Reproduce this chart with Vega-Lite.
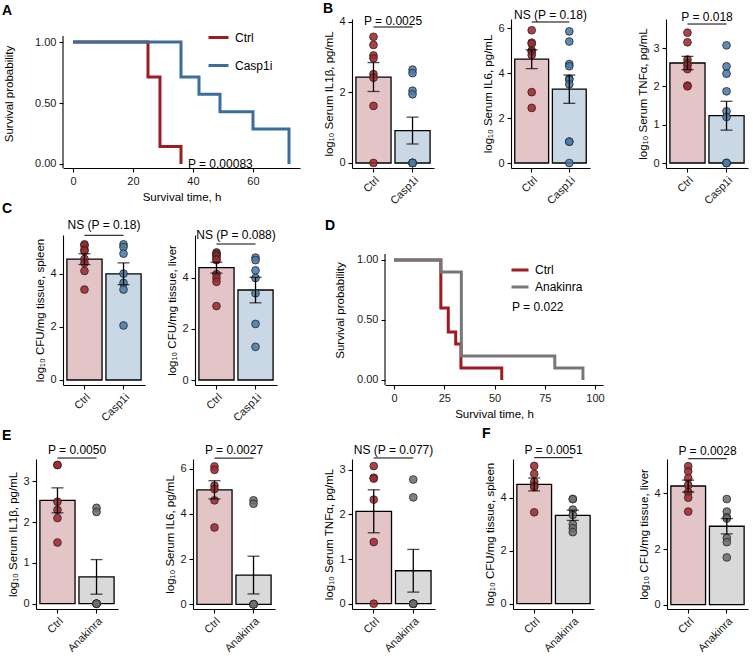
{
"$schema": "https://vega.github.io/schema/vega-lite/v6.json",
"background": "white",
"padding": {"left": 2, "top": 1, "right": 2, "bottom": 0},
"bounds": "flush",
"spacing": 0,
"resolve": {"scale": {"color": "independent", "fill": "independent"}, "legend": {"color": "independent", "fill": "independent"}},
"config": {
 "view": {"stroke": null},
 "font": "Liberation Sans",
 "axis": {"grid": false, "domainColor": "black", "domainWidth": 1.1, "tickColor": "black", "tickWidth": 1.1, "tickSize": 4, "labelFont": "Liberation Sans", "labelFontSize": 11, "labelColor": "#1a1a1a", "labelPadding": 3, "titleFont": "Liberation Sans", "titleFontSize": 11.5, "titleFontWeight": "normal", "titleColor": "black", "titlePadding": 4},
 "axisBand": {"labelAngle": -45, "labelAlign": "right", "labelBaseline": "top", "labelPadding": 2, "labelFontSize": 11},
 "legend": {"labelFont": "Liberation Sans", "labelFontSize": 12, "labelColor": "black"},
 "text": {"font": "Liberation Sans", "fontSize": 12, "color": "black"},
 "title": {"font": "Liberation Sans", "fontSize": 14, "fontWeight": "bold", "color": "black", "anchor": "start", "frame": "group"}
},
"datasets": {
 "kmA": [{"t":0,"s":1,"g":"Ctrl"},{"t":25,"s":0.714,"g":"Ctrl"},{"t":29,"s":0.143,"g":"Ctrl"},{"t":36,"s":0,"g":"Ctrl"},{"t":0,"s":1,"g":"Casp1i"},{"t":36,"s":0.714,"g":"Casp1i"},{"t":42,"s":0.571,"g":"Casp1i"},{"t":49,"s":0.429,"g":"Casp1i"},{"t":60,"s":0.286,"g":"Casp1i"},{"t":72,"s":0,"g":"Casp1i"}],
 "kmD": [{"t":0,"s":1,"g":"Ctrl"},{"t":23.3,"s":0.6,"g":"Ctrl"},{"t":27,"s":0.4,"g":"Ctrl"},{"t":30.7,"s":0.3,"g":"Ctrl"},{"t":33.3,"s":0.1,"g":"Ctrl"},{"t":53.6,"s":0,"g":"Ctrl"},{"t":0,"s":1,"g":"Anakinra"},{"t":23.3,"s":0.9,"g":"Anakinra"},{"t":33.5,"s":0.2,"g":"Anakinra"},{"t":80,"s":0.1,"g":"Anakinra"},{"t":94,"s":0,"g":"Anakinra"}],
 "b1": [{"g":"Ctrl","v":3.58},{"g":"Ctrl","v":3.35},{"g":"Ctrl","v":3.05},{"g":"Ctrl","v":2.97},{"g":"Ctrl","v":2.52},{"g":"Ctrl","v":2.42},{"g":"Ctrl","v":1.62},{"g":"Ctrl","v":0},{"g":"Casp1i","v":2.65},{"g":"Casp1i","v":2.55},{"g":"Casp1i","v":2.05},{"g":"Casp1i","v":1.95},{"g":"Casp1i","v":0},{"g":"Casp1i","v":0},{"g":"Casp1i","v":0},{"g":"Casp1i","v":0},{"g":"Casp1i","v":0},{"g":"Casp1i","v":0}],
 "b2": [{"g":"Ctrl","v":5.9},{"g":"Ctrl","v":5.35},{"g":"Ctrl","v":5.3},{"g":"Ctrl","v":5.0},{"g":"Ctrl","v":4.95},{"g":"Ctrl","v":4.8},{"g":"Ctrl","v":3.15},{"g":"Ctrl","v":2.45},{"g":"Casp1i","v":5.85},{"g":"Casp1i","v":5.4},{"g":"Casp1i","v":4.4},{"g":"Casp1i","v":4.3},{"g":"Casp1i","v":3.75},{"g":"Casp1i","v":3.7},{"g":"Casp1i","v":3.5},{"g":"Casp1i","v":0.95},{"g":"Casp1i","v":0.95},{"g":"Casp1i","v":0}],
 "b3": [{"g":"Ctrl","v":3.4},{"g":"Ctrl","v":3.15},{"g":"Ctrl","v":2.7},{"g":"Ctrl","v":2.6},{"g":"Ctrl","v":2.55},{"g":"Ctrl","v":2.45},{"g":"Ctrl","v":2.02},{"g":"Ctrl","v":2.0},{"g":"Casp1i","v":3.07},{"g":"Casp1i","v":2.52},{"g":"Casp1i","v":2.33},{"g":"Casp1i","v":1.87},{"g":"Casp1i","v":1.35},{"g":"Casp1i","v":1.2},{"g":"Casp1i","v":0},{"g":"Casp1i","v":0},{"g":"Casp1i","v":0},{"g":"Casp1i","v":0}],
 "c1": [{"g":"Ctrl","v":5.1},{"g":"Ctrl","v":5.05},{"g":"Ctrl","v":4.9},{"g":"Ctrl","v":4.85},{"g":"Ctrl","v":4.55},{"g":"Ctrl","v":4.4},{"g":"Ctrl","v":4.1},{"g":"Ctrl","v":3.4},{"g":"Casp1i","v":5.1},{"g":"Casp1i","v":5.0},{"g":"Casp1i","v":4.75},{"g":"Casp1i","v":4.0},{"g":"Casp1i","v":3.65},{"g":"Casp1i","v":3.4},{"g":"Casp1i","v":2.05}],
 "c2": [{"g":"Ctrl","v":5.0},{"g":"Ctrl","v":4.95},{"g":"Ctrl","v":4.9},{"g":"Ctrl","v":4.85},{"g":"Ctrl","v":4.75},{"g":"Ctrl","v":4.7},{"g":"Ctrl","v":4.15},{"g":"Ctrl","v":4.0},{"g":"Ctrl","v":3.85},{"g":"Ctrl","v":2.9},{"g":"Casp1i","v":4.8},{"g":"Casp1i","v":4.7},{"g":"Casp1i","v":4.3},{"g":"Casp1i","v":4.0},{"g":"Casp1i","v":3.4},{"g":"Casp1i","v":2.2},{"g":"Casp1i","v":1.3}],
 "e1": [{"g":"Ctrl","v":3.4},{"g":"Ctrl","v":3.4},{"g":"Ctrl","v":2.5},{"g":"Ctrl","v":2.3},{"g":"Ctrl","v":2.1},{"g":"Ctrl","v":1.5},{"g":"Anakinra","v":2.35},{"g":"Anakinra","v":2.25},{"g":"Anakinra","v":0},{"g":"Anakinra","v":0},{"g":"Anakinra","v":0},{"g":"Anakinra","v":0},{"g":"Anakinra","v":0}],
 "e2": [{"g":"Ctrl","v":6.1},{"g":"Ctrl","v":5.95},{"g":"Ctrl","v":5.25},{"g":"Ctrl","v":5.1},{"g":"Ctrl","v":4.6},{"g":"Ctrl","v":3.4},{"g":"Anakinra","v":4.6},{"g":"Anakinra","v":4.45},{"g":"Anakinra","v":0},{"g":"Anakinra","v":0},{"g":"Anakinra","v":0},{"g":"Anakinra","v":0},{"g":"Anakinra","v":0}],
 "e3": [{"g":"Ctrl","v":3.08},{"g":"Ctrl","v":2.82},{"g":"Ctrl","v":2.8},{"g":"Ctrl","v":2.33},{"g":"Ctrl","v":1.38},{"g":"Ctrl","v":0},{"g":"Anakinra","v":2.78},{"g":"Anakinra","v":2.38},{"g":"Anakinra","v":0},{"g":"Anakinra","v":0},{"g":"Anakinra","v":0},{"g":"Anakinra","v":0},{"g":"Anakinra","v":0}],
 "f1": [{"g":"Ctrl","v":5.2},{"g":"Ctrl","v":4.9},{"g":"Ctrl","v":4.6},{"g":"Ctrl","v":4.45},{"g":"Ctrl","v":4.4},{"g":"Ctrl","v":3.45},{"g":"Anakinra","v":3.95},{"g":"Anakinra","v":3.95},{"g":"Anakinra","v":3.55},{"g":"Anakinra","v":3.35},{"g":"Anakinra","v":3.0},{"g":"Anakinra","v":2.85},{"g":"Anakinra","v":2.7}],
 "f2": [{"g":"Ctrl","v":4.98},{"g":"Ctrl","v":4.8},{"g":"Ctrl","v":4.55},{"g":"Ctrl","v":4.3},{"g":"Ctrl","v":4.05},{"g":"Ctrl","v":3.85},{"g":"Ctrl","v":3.35},{"g":"Anakinra","v":3.8},{"g":"Anakinra","v":3.35},{"g":"Anakinra","v":3.15},{"g":"Anakinra","v":3.1},{"g":"Anakinra","v":2.4},{"g":"Anakinra","v":2.25},{"g":"Anakinra","v":1.7}]
},
"vconcat": [
{"bounds": "flush", "spacing": 0, "resolve": {"scale": {"color": "independent", "fill": "independent"}, "legend": {"color": "independent", "fill": "independent"}},
 "hconcat": [
 {"width": 27, "height": 149, "data": {"values": []}, "mark": "point", "encoding": {}},
 {"width": 237, "height": 149, "title": {"text": "A", "dx": -61, "offset": 1.5},
  "layer": [
   {"data": {"name": "kmA"}, "mark": {"type": "line", "interpolate": "step-after", "strokeWidth": 3},
    "encoding": {
     "x": {"field": "t", "type": "quantitative", "scale": {"domain": [-3.33, 75.67], "nice": false, "zero": false}, "axis": {"title": "Survival time, h", "values": [0,20,40,60], "titlePadding": 5}},
     "y": {"field": "s", "type": "quantitative", "scale": {"domain": [-0.033, 1.189], "nice": false, "zero": false}, "axis": {"title": "Survival probability", "values": [0,0.25,0.5,0.75,1], "format": ".2f", "domain": false, "titlePadding": 20}},
     "color": {"field": "g", "type": "nominal", "scale": {"domain": ["Ctrl","Casp1i"], "range": ["#9E1B20","#3B6E9C"]},
       "legend": {"title": null, "orient": "none", "legendX": 144, "legendY": 7, "symbolType": "stroke", "symbolStrokeWidth": 3, "symbolSize": 400, "labelOffset": 5, "rowPadding": 10, "padding": 0}}
    }},
   {"data": {"values": [{}]}, "mark": {"type": "rule", "color": "black", "strokeWidth": 1.1},
    "encoding": {"x": {"datum": -3.33, "type": "quantitative"}, "y": {"datum": -0.033, "type": "quantitative"}, "y2": {"datum": 1.05}}},
   {"data": {"values": [{}]}, "mark": {"type": "text", "align": "left", "baseline": "middle", "fontSize": 12},
    "encoding": {"x": {"datum": 38.3, "type": "quantitative"}, "y": {"datum": 0, "type": "quantitative"}, "text": {"value": "P = 0.00083"}}}
  ]},
 {"width": 52, "height": 149, "data": {"values": []}, "mark": "point", "encoding": {}},
 {"width": 82, "height": 149, "title": {"text": "B", "dx": -29, "offset": -1},
  "layer": [
   {"data": {"name": "b1"}, "mark": {"type": "bar", "stroke": "black", "strokeWidth": 1.3},
    "encoding": {
     "x": {"field": "g", "type": "nominal", "scale": {"domain": ["Ctrl","Casp1i"], "paddingInner": 0.1, "paddingOuter": 0.1}, "axis": {"title": null}},
     "y": {"aggregate": "mean", "field": "v", "type": "quantitative", "title": "log₁₀ Serum IL1β, pg/mL", "scale": {"domain": [-0.142, 4.085], "nice": false, "zero": false}, "axis": {"values": [0,1,2,3,4]}},
     "y2": {"datum": 0},
     "fill": {"field": "g", "type": "nominal", "scale": {"domain": ["Ctrl","Casp1i"], "range": ["#E4C5C7","#C9D8E4"]}, "legend": null}}},
   {"data": {"name": "b1"}, "mark": {"type": "point", "filled": true, "size": 60, "stroke": "#262626", "strokeWidth": 0.8, "fillOpacity": 0.88},
    "encoding": {"x": {"field": "g", "type": "nominal"}, "y": {"field": "v", "type": "quantitative", "title": "log₁₀ Serum IL1β, pg/mL"},
     "color": {"field": "g", "type": "nominal", "scale": {"domain": ["Ctrl","Casp1i"], "range": ["#A3282E","#4A7BAA"]}, "legend": null}}},
   {"data": {"name": "b1"}, "mark": {"type": "errorbar", "extent": "stderr", "ticks": true, "size": 12, "thickness": 1.3, "color": "black"},
    "encoding": {"x": {"field": "g", "type": "nominal"}, "y": {"field": "v", "type": "quantitative", "title": "log₁₀ Serum IL1β, pg/mL"}}},
   {"data": {"values": [{}]}, "mark": {"type": "rule", "color": "black", "strokeWidth": 1},
    "encoding": {"x": {"datum": "Ctrl", "type": "nominal"}, "x2": {"datum": "Casp1i"}, "y": {"datum": 3.858, "type": "quantitative"}}},
   {"data": {"values": [{}]}, "mark": {"type": "text", "baseline": "alphabetic", "align": "center", "fontSize": 12},
    "encoding": {"x": {"datum": "Ctrl", "type": "nominal", "bandPosition": 1.056}, "y": {"datum": 3.915, "type": "quantitative"}, "text": {"value": "P = 0.0025"}}}
  ]},
 {"width": 77, "height": 149, "data": {"values": []}, "mark": "point", "encoding": {}},
 {"width": 79, "height": 149,
  "layer": [
   {"data": {"name": "b2"}, "mark": {"type": "bar", "stroke": "black", "strokeWidth": 1.3},
    "encoding": {
     "x": {"field": "g", "type": "nominal", "scale": {"domain": ["Ctrl","Casp1i"], "paddingInner": 0.1, "paddingOuter": 0.1}, "axis": {"title": null}},
     "y": {"aggregate": "mean", "field": "v", "type": "quantitative", "title": "log₁₀ Serum IL6, pg/mL", "scale": {"domain": [-0.222, 6.4], "nice": false, "zero": false}, "axis": {"values": [0,2,4,6]}},
     "y2": {"datum": 0},
     "fill": {"field": "g", "type": "nominal", "scale": {"domain": ["Ctrl","Casp1i"], "range": ["#E4C5C7","#C9D8E4"]}, "legend": null}}},
   {"data": {"name": "b2"}, "mark": {"type": "point", "filled": true, "size": 60, "stroke": "#262626", "strokeWidth": 0.8, "fillOpacity": 0.88},
    "encoding": {"x": {"field": "g", "type": "nominal"}, "y": {"field": "v", "type": "quantitative", "title": "log₁₀ Serum IL6, pg/mL"},
     "color": {"field": "g", "type": "nominal", "scale": {"domain": ["Ctrl","Casp1i"], "range": ["#A3282E","#4A7BAA"]}, "legend": null}}},
   {"data": {"name": "b2"}, "mark": {"type": "errorbar", "extent": "stderr", "ticks": true, "size": 12, "thickness": 1.3, "color": "black"},
    "encoding": {"x": {"field": "g", "type": "nominal"}, "y": {"field": "v", "type": "quantitative", "title": "log₁₀ Serum IL6, pg/mL"}}},
   {"data": {"values": [{}]}, "mark": {"type": "rule", "color": "black", "strokeWidth": 1},
    "encoding": {"x": {"datum": "Ctrl", "type": "nominal"}, "x2": {"datum": "Casp1i"}, "y": {"datum": 6.267, "type": "quantitative"}}},
   {"data": {"values": [{}]}, "mark": {"type": "text", "baseline": "alphabetic", "align": "center", "fontSize": 12},
    "encoding": {"x": {"datum": "Ctrl", "type": "nominal", "bandPosition": 1.056}, "y": {"datum": 6.4, "type": "quantitative"}, "text": {"value": "NS (P = 0.18)"}}}
  ]},
 {"width": 76, "height": 149, "data": {"values": []}, "mark": "point", "encoding": {}},
 {"width": 82, "height": 149,
  "layer": [
   {"data": {"name": "b3"}, "mark": {"type": "bar", "stroke": "black", "strokeWidth": 1.3},
    "encoding": {
     "x": {"field": "g", "type": "nominal", "scale": {"domain": ["Ctrl","Casp1i"], "paddingInner": 0.1, "paddingOuter": 0.1}, "axis": {"title": null}},
     "y": {"aggregate": "mean", "field": "v", "type": "quantitative", "title": "log₁₀ Serum TNFα, pg/mL", "scale": {"domain": [-0.13, 3.757], "nice": false, "zero": false}, "axis": {"values": [0,1,2,3]}},
     "y2": {"datum": 0},
     "fill": {"field": "g", "type": "nominal", "scale": {"domain": ["Ctrl","Casp1i"], "range": ["#E4C5C7","#C9D8E4"]}, "legend": null}}},
   {"data": {"name": "b3"}, "mark": {"type": "point", "filled": true, "size": 60, "stroke": "#262626", "strokeWidth": 0.8, "fillOpacity": 0.88},
    "encoding": {"x": {"field": "g", "type": "nominal"}, "y": {"field": "v", "type": "quantitative", "title": "log₁₀ Serum TNFα, pg/mL"},
     "color": {"field": "g", "type": "nominal", "scale": {"domain": ["Ctrl","Casp1i"], "range": ["#A3282E","#4A7BAA"]}, "legend": null}}},
   {"data": {"name": "b3"}, "mark": {"type": "errorbar", "extent": "stderr", "ticks": true, "size": 12, "thickness": 1.3, "color": "black"},
    "encoding": {"x": {"field": "g", "type": "nominal"}, "y": {"field": "v", "type": "quantitative", "title": "log₁₀ Serum TNFα, pg/mL"}}},
   {"data": {"values": [{}]}, "mark": {"type": "rule", "color": "black", "strokeWidth": 1},
    "encoding": {"x": {"datum": "Ctrl", "type": "nominal"}, "x2": {"datum": "Casp1i"}, "y": {"datum": 3.626, "type": "quantitative"}}},
   {"data": {"values": [{}]}, "mark": {"type": "text", "baseline": "alphabetic", "align": "center", "fontSize": 12},
    "encoding": {"x": {"datum": "Ctrl", "type": "nominal", "bandPosition": 1.056}, "y": {"datum": 3.705, "type": "quantitative"}, "text": {"value": "P = 0.018"}}}
  ]}
 ]},
{"width": 1, "height": 216, "data": {"values": []}, "mark": "point", "encoding": {}},
{"bounds": "flush", "spacing": 0, "resolve": {"scale": {"color": "independent", "fill": "independent"}, "legend": {"color": "independent", "fill": "independent"}},
 "hconcat": [
 {"width": 27, "height": 150, "data": {"values": []}, "mark": "point", "encoding": {}},
 {"width": 82, "height": 150, "title": {"text": "C", "dx": -61, "offset": 2.5},
  "layer": [
   {"data": {"name": "c1"}, "mark": {"type": "bar", "stroke": "black", "strokeWidth": 1.3},
    "encoding": {
     "x": {"field": "g", "type": "nominal", "scale": {"domain": ["Ctrl","Casp1i"], "paddingInner": 0.1, "paddingOuter": 0.1}, "axis": {"title": null}},
     "y": {"aggregate": "mean", "field": "v", "type": "quantitative", "title": "log₁₀ CFU/mg tissue, spleen", "scale": {"domain": [-0.188, 5.451], "nice": false, "zero": false}, "axis": {"values": [0,1,2,3,4,5]}},
     "y2": {"datum": 0},
     "fill": {"field": "g", "type": "nominal", "scale": {"domain": ["Ctrl","Casp1i"], "range": ["#E4C5C7","#C9D8E4"]}, "legend": null}}},
   {"data": {"name": "c1"}, "mark": {"type": "point", "filled": true, "size": 60, "stroke": "#262626", "strokeWidth": 0.8, "fillOpacity": 0.88},
    "encoding": {"x": {"field": "g", "type": "nominal"}, "y": {"field": "v", "type": "quantitative", "title": "log₁₀ CFU/mg tissue, spleen"},
     "color": {"field": "g", "type": "nominal", "scale": {"domain": ["Ctrl","Casp1i"], "range": ["#A3282E","#4A7BAA"]}, "legend": null}}},
   {"data": {"name": "c1"}, "mark": {"type": "errorbar", "extent": "stderr", "ticks": true, "size": 12, "thickness": 1.3, "color": "black"},
    "encoding": {"x": {"field": "g", "type": "nominal"}, "y": {"field": "v", "type": "quantitative", "title": "log₁₀ CFU/mg tissue, spleen"}}},
   {"data": {"values": [{}]}, "mark": {"type": "rule", "color": "black", "strokeWidth": 1},
    "encoding": {"x": {"datum": "Ctrl", "type": "nominal"}, "x2": {"datum": "Casp1i"}, "y": {"datum": 5.44, "type": "quantitative"}}},
   {"data": {"values": [{}]}, "mark": {"type": "text", "baseline": "alphabetic", "align": "center", "fontSize": 12},
    "encoding": {"x": {"datum": "Ctrl", "type": "nominal", "bandPosition": 1.056}, "y": {"datum": 5.677, "type": "quantitative"}, "text": {"value": "NS (P = 0.18)"}}}
  ]},
 {"width": 50, "height": 150, "data": {"values": []}, "mark": "point", "encoding": {}},
 {"width": 82, "height": 150,
  "layer": [
   {"data": {"name": "c2"}, "mark": {"type": "bar", "stroke": "black", "strokeWidth": 1.3},
    "encoding": {
     "x": {"field": "g", "type": "nominal", "scale": {"domain": ["Ctrl","Casp1i"], "paddingInner": 0.1, "paddingOuter": 0.1}, "axis": {"title": null}},
     "y": {"aggregate": "mean", "field": "v", "type": "quantitative", "title": "log₁₀ CFU/mg tissue, liver", "scale": {"domain": [-0.196, 5.686], "nice": false, "zero": false}, "axis": {"values": [0,2,4]}},
     "y2": {"datum": 0},
     "fill": {"field": "g", "type": "nominal", "scale": {"domain": ["Ctrl","Casp1i"], "range": ["#E4C5C7","#C9D8E4"]}, "legend": null}}},
   {"data": {"name": "c2"}, "mark": {"type": "point", "filled": true, "size": 60, "stroke": "#262626", "strokeWidth": 0.8, "fillOpacity": 0.88},
    "encoding": {"x": {"field": "g", "type": "nominal"}, "y": {"field": "v", "type": "quantitative", "title": "log₁₀ CFU/mg tissue, liver"},
     "color": {"field": "g", "type": "nominal", "scale": {"domain": ["Ctrl","Casp1i"], "range": ["#A3282E","#4A7BAA"]}, "legend": null}}},
   {"data": {"name": "c2"}, "mark": {"type": "errorbar", "extent": "stderr", "ticks": true, "size": 12, "thickness": 1.3, "color": "black"},
    "encoding": {"x": {"field": "g", "type": "nominal"}, "y": {"field": "v", "type": "quantitative", "title": "log₁₀ CFU/mg tissue, liver"}}},
   {"data": {"values": [{}]}, "mark": {"type": "rule", "color": "black", "strokeWidth": 1},
    "encoding": {"x": {"datum": "Ctrl", "type": "nominal"}, "x2": {"datum": "Casp1i"}, "y": {"datum": 5.333, "type": "quantitative"}}},
   {"data": {"values": [{}]}, "mark": {"type": "text", "baseline": "alphabetic", "align": "center", "fontSize": 12},
    "encoding": {"x": {"datum": "Ctrl", "type": "nominal", "bandPosition": 1.056}, "y": {"datum": 5.53, "type": "quantitative"}, "text": {"value": "NS (P = 0.088)"}}}
  ]},
 {"width": 108, "height": 150, "data": {"values": []}, "mark": "point", "encoding": {}},
 {"width": 218, "height": 150, "title": {"text": "D", "dx": -60, "offset": 2.5},
  "layer": [
   {"data": {"name": "kmD"}, "mark": {"type": "line", "interpolate": "step-after", "strokeWidth": 3},
    "encoding": {
     "x": {"field": "t", "type": "quantitative", "scale": {"domain": [-4.48, 103.98], "nice": false, "zero": false}, "axis": {"title": "Survival time, h", "values": [0,25,50,75,100], "titlePadding": 5}},
     "y": {"field": "s", "type": "quantitative", "scale": {"domain": [-0.0417, 1.2083], "nice": false, "zero": false}, "axis": {"title": "Survival probability", "values": [0,0.25,0.5,0.75,1], "format": ".2f", "domain": false, "titlePadding": 11}},
     "color": {"field": "g", "type": "nominal", "scale": {"domain": ["Ctrl","Anakinra"], "range": ["#9E1B20","#777777"]},
       "legend": {"title": null, "orient": "none", "legendX": 125, "legendY": 25, "symbolType": "stroke", "symbolStrokeWidth": 3, "symbolSize": 289, "labelOffset": 5, "rowPadding": 1, "padding": 0}}
    }},
   {"data": {"values": [{}]}, "mark": {"type": "rule", "color": "black", "strokeWidth": 1.1},
    "encoding": {"x": {"datum": -4.48, "type": "quantitative"}, "y": {"datum": -0.0417, "type": "quantitative"}, "y2": {"datum": 1.05}}},
   {"data": {"values": [{}]}, "mark": {"type": "text", "align": "left", "baseline": "middle", "fontSize": 12},
    "encoding": {"x": {"datum": 58.7, "type": "quantitative"}, "y": {"datum": 0.61, "type": "quantitative"}, "text": {"value": "P = 0.022"}}}
  ]}
 ]},
{"width": 1, "height": 224, "data": {"values": []}, "mark": "point", "encoding": {}},
{"bounds": "flush", "spacing": 0, "resolve": {"scale": {"color": "independent", "fill": "independent"}, "legend": {"color": "independent", "fill": "independent"}},
 "hconcat": [
 {"width": 82, "height": 150, "title": {"text": "E", "dx": -34, "offset": 1.5},
  "layer": [
   {"data": {"name": "e1"}, "mark": {"type": "bar", "stroke": "black", "strokeWidth": 1.3},
    "encoding": {
     "x": {"field": "g", "type": "nominal", "scale": {"domain": ["Ctrl","Anakinra"], "paddingInner": 0.1, "paddingOuter": 0.1}, "axis": {"title": null}},
     "y": {"aggregate": "mean", "field": "v", "type": "quantitative", "title": "log₁₀ Serum IL1β, pg/mL", "scale": {"domain": [-0.13, 3.547], "nice": false, "zero": false}, "axis": {"values": [0,1,2,3]}},
     "y2": {"datum": 0},
     "fill": {"field": "g", "type": "nominal", "scale": {"domain": ["Ctrl","Anakinra"], "range": ["#E4C5C7","#D9D9D9"]}, "legend": null}}},
   {"data": {"name": "e1"}, "mark": {"type": "point", "filled": true, "size": 60, "stroke": "#262626", "strokeWidth": 0.8, "fillOpacity": 0.88},
    "encoding": {"x": {"field": "g", "type": "nominal"}, "y": {"field": "v", "type": "quantitative", "title": "log₁₀ Serum IL1β, pg/mL"},
     "color": {"field": "g", "type": "nominal", "scale": {"domain": ["Ctrl","Anakinra"], "range": ["#A3282E","#6E6E6E"]}, "legend": null}}},
   {"data": {"name": "e1"}, "mark": {"type": "errorbar", "extent": "stderr", "ticks": true, "size": 12, "thickness": 1.3, "color": "black"},
    "encoding": {"x": {"field": "g", "type": "nominal"}, "y": {"field": "v", "type": "quantitative", "title": "log₁₀ Serum IL1β, pg/mL"}}},
   {"data": {"values": [{}]}, "mark": {"type": "rule", "color": "black", "strokeWidth": 1},
    "encoding": {"x": {"datum": "Ctrl", "type": "nominal"}, "x2": {"datum": "Anakinra"}, "y": {"datum": 3.571, "type": "quantitative"}}},
   {"data": {"values": [{}]}, "mark": {"type": "text", "baseline": "alphabetic", "align": "center", "fontSize": 12},
    "encoding": {"x": {"datum": "Ctrl", "type": "nominal", "bandPosition": 1.056}, "y": {"datum": 3.669, "type": "quantitative"}, "text": {"value": "P = 0.0050"}}}
  ]},
 {"width": 75, "height": 150, "data": {"values": []}, "mark": "point", "encoding": {}},
 {"width": 82, "height": 150,
  "layer": [
   {"data": {"name": "e2"}, "mark": {"type": "bar", "stroke": "black", "strokeWidth": 1.3},
    "encoding": {
     "x": {"field": "g", "type": "nominal", "scale": {"domain": ["Ctrl","Anakinra"], "paddingInner": 0.1, "paddingOuter": 0.1}, "axis": {"title": null}},
     "y": {"aggregate": "mean", "field": "v", "type": "quantitative", "title": "log₁₀ Serum IL6, pg/mL", "scale": {"domain": [-0.208, 6.43], "nice": false, "zero": false}, "axis": {"values": [0,2,4,6]}},
     "y2": {"datum": 0},
     "fill": {"field": "g", "type": "nominal", "scale": {"domain": ["Ctrl","Anakinra"], "range": ["#E4C5C7","#D9D9D9"]}, "legend": null}}},
   {"data": {"name": "e2"}, "mark": {"type": "point", "filled": true, "size": 60, "stroke": "#262626", "strokeWidth": 0.8, "fillOpacity": 0.88},
    "encoding": {"x": {"field": "g", "type": "nominal"}, "y": {"field": "v", "type": "quantitative", "title": "log₁₀ Serum IL6, pg/mL"},
     "color": {"field": "g", "type": "nominal", "scale": {"domain": ["Ctrl","Anakinra"], "range": ["#A3282E","#6E6E6E"]}, "legend": null}}},
   {"data": {"name": "e2"}, "mark": {"type": "errorbar", "extent": "stderr", "ticks": true, "size": 12, "thickness": 1.3, "color": "black"},
    "encoding": {"x": {"field": "g", "type": "nominal"}, "y": {"field": "v", "type": "quantitative", "title": "log₁₀ Serum IL6, pg/mL"}}},
   {"data": {"values": [{}]}, "mark": {"type": "rule", "color": "black", "strokeWidth": 1},
    "encoding": {"x": {"datum": "Ctrl", "type": "nominal"}, "x2": {"datum": "Anakinra"}, "y": {"datum": 6.47, "type": "quantitative"}}},
   {"data": {"values": [{}]}, "mark": {"type": "text", "baseline": "alphabetic", "align": "center", "fontSize": 12},
    "encoding": {"x": {"datum": "Ctrl", "type": "nominal", "bandPosition": 1.056}, "y": {"datum": 6.65, "type": "quantitative"}, "text": {"value": "P = 0.0027"}}}
  ]},
 {"width": 77, "height": 150, "data": {"values": []}, "mark": "point", "encoding": {}},
 {"width": 83, "height": 150,
  "layer": [
   {"data": {"name": "e3"}, "mark": {"type": "bar", "stroke": "black", "strokeWidth": 1.3},
    "encoding": {
     "x": {"field": "g", "type": "nominal", "scale": {"domain": ["Ctrl","Anakinra"], "paddingInner": 0.1, "paddingOuter": 0.1}, "axis": {"title": null}},
     "y": {"aggregate": "mean", "field": "v", "type": "quantitative", "title": "log₁₀ Serum TNFα, pg/mL", "scale": {"domain": [-0.119, 3.239], "nice": false, "zero": false}, "axis": {"values": [0,1,2,3]}},
     "y2": {"datum": 0},
     "fill": {"field": "g", "type": "nominal", "scale": {"domain": ["Ctrl","Anakinra"], "range": ["#E4C5C7","#D9D9D9"]}, "legend": null}}},
   {"data": {"name": "e3"}, "mark": {"type": "point", "filled": true, "size": 60, "stroke": "#262626", "strokeWidth": 0.8, "fillOpacity": 0.88},
    "encoding": {"x": {"field": "g", "type": "nominal"}, "y": {"field": "v", "type": "quantitative", "title": "log₁₀ Serum TNFα, pg/mL"},
     "color": {"field": "g", "type": "nominal", "scale": {"domain": ["Ctrl","Anakinra"], "range": ["#A3282E","#6E6E6E"]}, "legend": null}}},
   {"data": {"name": "e3"}, "mark": {"type": "errorbar", "extent": "stderr", "ticks": true, "size": 12, "thickness": 1.3, "color": "black"},
    "encoding": {"x": {"field": "g", "type": "nominal"}, "y": {"field": "v", "type": "quantitative", "title": "log₁₀ Serum TNFα, pg/mL"}}},
   {"data": {"values": [{}]}, "mark": {"type": "rule", "color": "black", "strokeWidth": 1},
    "encoding": {"x": {"datum": "Ctrl", "type": "nominal"}, "x2": {"datum": "Anakinra"}, "y": {"datum": 3.262, "type": "quantitative"}}},
   {"data": {"values": [{}]}, "mark": {"type": "text", "baseline": "alphabetic", "align": "center", "fontSize": 12},
    "encoding": {"x": {"datum": "Ctrl", "type": "nominal", "bandPosition": 1.056}, "y": {"datum": 3.351, "type": "quantitative"}, "text": {"value": "NS (P = 0.077)"}}}
  ]},
 {"width": 78, "height": 150, "data": {"values": []}, "mark": "point", "encoding": {}},
 {"width": 81, "height": 150, "title": {"text": "F", "dx": -31, "offset": 3.5},
  "layer": [
   {"data": {"name": "f1"}, "mark": {"type": "bar", "stroke": "black", "strokeWidth": 1.3},
    "encoding": {
     "x": {"field": "g", "type": "nominal", "scale": {"domain": ["Ctrl","Anakinra"], "paddingInner": 0.1, "paddingOuter": 0.1}, "axis": {"title": null}},
     "y": {"aggregate": "mean", "field": "v", "type": "quantitative", "title": "log₁₀ CFU/mg tissue, spleen", "scale": {"domain": [-0.2, 5.46], "nice": false, "zero": false}, "axis": {"values": [0,1,2,3,4,5]}},
     "y2": {"datum": 0},
     "fill": {"field": "g", "type": "nominal", "scale": {"domain": ["Ctrl","Anakinra"], "range": ["#E4C5C7","#D9D9D9"]}, "legend": null}}},
   {"data": {"name": "f1"}, "mark": {"type": "point", "filled": true, "size": 60, "stroke": "#262626", "strokeWidth": 0.8, "fillOpacity": 0.88},
    "encoding": {"x": {"field": "g", "type": "nominal"}, "y": {"field": "v", "type": "quantitative", "title": "log₁₀ CFU/mg tissue, spleen"},
     "color": {"field": "g", "type": "nominal", "scale": {"domain": ["Ctrl","Anakinra"], "range": ["#A3282E","#6E6E6E"]}, "legend": null}}},
   {"data": {"name": "f1"}, "mark": {"type": "errorbar", "extent": "stderr", "ticks": true, "size": 12, "thickness": 1.3, "color": "black"},
    "encoding": {"x": {"field": "g", "type": "nominal"}, "y": {"field": "v", "type": "quantitative", "title": "log₁₀ CFU/mg tissue, spleen"}}},
   {"data": {"values": [{}]}, "mark": {"type": "rule", "color": "black", "strokeWidth": 1},
    "encoding": {"x": {"datum": "Ctrl", "type": "nominal"}, "x2": {"datum": "Anakinra"}, "y": {"datum": 5.51, "type": "quantitative"}}},
   {"data": {"values": [{}]}, "mark": {"type": "text", "baseline": "alphabetic", "align": "center", "fontSize": 12},
    "encoding": {"x": {"datum": "Ctrl", "type": "nominal", "bandPosition": 1.056}, "y": {"datum": 5.64, "type": "quantitative"}, "text": {"value": "P = 0.0051"}}}
  ]},
 {"width": 73, "height": 150, "data": {"values": []}, "mark": "point", "encoding": {}},
 {"width": 81, "height": 150,
  "layer": [
   {"data": {"name": "f2"}, "mark": {"type": "bar", "stroke": "black", "strokeWidth": 1.3},
    "encoding": {
     "x": {"field": "g", "type": "nominal", "scale": {"domain": ["Ctrl","Anakinra"], "paddingInner": 0.1, "paddingOuter": 0.1}, "axis": {"title": null}},
     "y": {"aggregate": "mean", "field": "v", "type": "quantitative", "title": "log₁₀ CFU/mg tissue, liver", "scale": {"domain": [-0.155, 5.24], "nice": false, "zero": false}, "axis": {"values": [0,1,2,3,4,5]}},
     "y2": {"datum": 0},
     "fill": {"field": "g", "type": "nominal", "scale": {"domain": ["Ctrl","Anakinra"], "range": ["#E4C5C7","#D9D9D9"]}, "legend": null}}},
   {"data": {"name": "f2"}, "mark": {"type": "point", "filled": true, "size": 60, "stroke": "#262626", "strokeWidth": 0.8, "fillOpacity": 0.88},
    "encoding": {"x": {"field": "g", "type": "nominal"}, "y": {"field": "v", "type": "quantitative", "title": "log₁₀ CFU/mg tissue, liver"},
     "color": {"field": "g", "type": "nominal", "scale": {"domain": ["Ctrl","Anakinra"], "range": ["#A3282E","#6E6E6E"]}, "legend": null}}},
   {"data": {"name": "f2"}, "mark": {"type": "errorbar", "extent": "stderr", "ticks": true, "size": 12, "thickness": 1.3, "color": "black"},
    "encoding": {"x": {"field": "g", "type": "nominal"}, "y": {"field": "v", "type": "quantitative", "title": "log₁₀ CFU/mg tissue, liver"}}},
   {"data": {"values": [{}]}, "mark": {"type": "rule", "color": "black", "strokeWidth": 1},
    "encoding": {"x": {"datum": "Ctrl", "type": "nominal"}, "x2": {"datum": "Anakinra"}, "y": {"datum": 5.25, "type": "quantitative"}}},
   {"data": {"values": [{}]}, "mark": {"type": "text", "baseline": "alphabetic", "align": "center", "fontSize": 12},
    "encoding": {"x": {"datum": "Ctrl", "type": "nominal", "bandPosition": 1.056}, "y": {"datum": 5.38, "type": "quantitative"}, "text": {"value": "P = 0.0028"}}}
  ]}
 ]}
]
}
